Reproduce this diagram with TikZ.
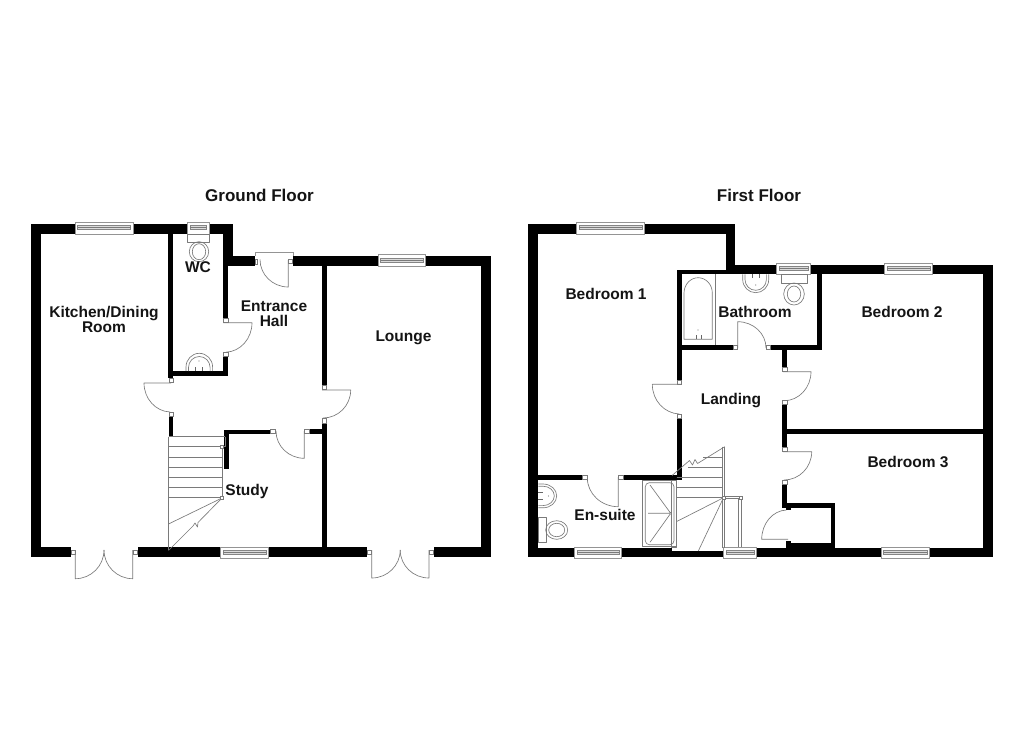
\documentclass[tikz,border=0pt]{standalone}
\usepackage{fontspec}
\setmainfont{Liberation Sans}
\tikzset{
  wall/.style={fill=black,draw=none},
  fine/.style={draw=black!52,line width=0.65pt,line join=round},
  jamb/.style={draw=black!52,fill=white,line width=0.6pt},
  winframe/.style={draw=black!42,fill=white,line width=0.7pt},
  winpane/.style={draw=black!48,fill=black!14,line width=0.5pt},
  room/.style={font=\fontsize{15.5}{15}\selectfont\bfseries,text=black!92,align=center,inner sep=0pt,text depth=0pt},
  title/.style={font=\fontsize{17}{17}\selectfont\bfseries,text=black!92,inner sep=0pt},
}
% horizontal window: x1,x2,ytop,ybot ; pane band inside
\newcommand{\hwin}[4]{%
  \fill[white] (#1,#3) rectangle (#2,#4);
  \draw[winframe] (#1,#3) rectangle (#2,#4);
  \draw[winpane] (#1+2.5,#3+3.5) rectangle (#2-2.5,#3+7.5);
  \draw[fine,line width=0.4pt] (#1+2.5,#3+5.5) -- (#2-2.5,#3+5.5);
}
\newcommand{\wl}[4]{\fill[wall] (#1,#2) rectangle (#3,#4);}
\newcommand{\jb}[2]{\draw[jamb] (#1-2.2,#2-2.2) rectangle (#1+2.2,#2+2.2);}
\begin{document}
\begin{tikzpicture}[x=1pt,y=-1pt]
\useasboundingbox (0,0) rectangle (1024,744);
\fill[white] (0,0) rectangle (1024,744);
% ================= GROUND FLOOR walls
\wl{30.7}{224}{40.7}{557}
\wl{30.7}{224}{232.7}{234}
\wl{223.3}{224}{232.7}{266}
\wl{223.3}{256}{255}{266}
\wl{223.3}{266}{228.3}{318}
\wl{223.3}{356}{228.3}{376}
\wl{168.3}{371}{228.3}{376}
\wl{168.3}{234}{173.3}{378}
\wl{168.6}{416}{173.3}{436.7}
\wl{223.5}{430}{270.7}{434}
\wl{224}{430}{229}{469}
\wl{309}{429}{321.7}{434}
\wl{321.7}{256}{326.7}{385}
\wl{321.7}{423}{326.7}{550}
\wl{293}{256}{490.7}{266}
\wl{480.7}{256}{490.7}{557}
\wl{30.7}{547.3}{70.7}{557}
\wl{137.7}{547.3}{366.7}{557}
\wl{433.7}{547.3}{490.7}{557}
% windows
\hwin{75}{133}{222}{234}
\hwin{187.3}{209}{222}{234}
\hwin{378}{425.7}{254.7}{266}
\hwin{220.7}{268.5}{547}{558.5}
% entrance door
\draw[winframe] (255,252.7) -- (293,252.7) -- (293,256);
\draw[winframe] (255,252.7) -- (255,256);
\draw[jamb] (255,259) rectangle (257.5,264);
\jb{290.5}{261.5}
\draw[fine] (288.3,260) -- (288.3,287) arc[start angle=90,end angle=180,x radius=28.3,y radius=27.5];
% wc door
\jb{225.8}{320.5}
\jb{225.8}{354.2}
\draw[fine] (223.3,322.7) -- (252,322.7) arc[start angle=0,end angle=88,x radius=27,y radius=29.5];
% kitchen door
\jb{171}{380.5}
\jb{171}{414}
\draw[fine] (171,383) -- (144,383) arc[start angle=180,end angle=92,x radius=27,y radius=29];
% lounge door
\jb{324.2}{387.4}
\jb{324.2}{420.7}
\draw[fine] (322,390) -- (350.7,390) arc[start angle=0,end angle=90,x radius=27.7,y radius=28];
% study door
\jb{272.8}{431.5}
\jb{306.7}{431.5}
\draw[fine] (304.3,431) -- (304.3,458.3) arc[start angle=90,end angle=180,x radius=28.3,y radius=27.3];
% french doors kitchen
\jb{73.2}{552.5}
\jb{135}{552.5}
\draw[fine] (75.3,550) -- (75.3,578.7) arc[start angle=90,end angle=0,x radius=28.7,y radius=28.7];
\draw[fine] (132.7,550) -- (132.7,578.7) arc[start angle=90,end angle=180,x radius=28.7,y radius=28.7];
% french doors lounge
\jb{369}{552.5}
\jb{431.3}{552.5}
\draw[fine] (371.7,550) -- (371.7,578) arc[start angle=90,end angle=0,x radius=28.5,y radius=28];
\draw[fine] (429,550) -- (429,578) arc[start angle=90,end angle=180,x radius=28.8,y radius=28];
% stairs ground
\draw[fine] (168.5,436.7) -- (168.5,550);
\draw[fine] (168.5,436.7) -- (225,436.7);
\draw[fine] (225,436.7) -- (225,446.7) -- (168.5,446.7);
\foreach \yy in {457,467,477.3,487.3,497.3} \draw[fine] (168.5,\yy) -- (222,\yy);
\draw[fine] (222,447) -- (222,498);
\draw[fine] (222,498) -- (168.5,524);
\draw[fine] (222,498) -- (198,522.5) -- (197.5,527) -- (195,523) -- (193,526) -- (168.5,550.5);
\draw[jamb,line width=0.5pt] (220.5,445.5) rectangle (223.5,448.5);
\draw[jamb,line width=0.5pt] (220.5,496.5) rectangle (223.5,499.5);
% wc toilet
\draw[fine,fill=white] (187.3,234) rectangle (209,242);
\draw[fine] (199,251.7) ellipse[x radius=9.7,y radius=10];
\draw[fine] (199,251.7) ellipse[x radius=6.7,y radius=8];
% wc sink
\draw[fine] (186,371) -- (186,367) arc[start angle=180,end angle=360,x radius=13.3,y radius=13.7] -- (212.6,371);
\draw[fine] (188.5,371) -- (188.5,367.5) arc[start angle=180,end angle=360,x radius=10.8,y radius=11] -- (210.1,371);
\draw[black!60,line width=1pt] (195.5,367) -- (195.5,371) (202.5,367) -- (202.5,371);
\fill[black!50] (199,361) circle (0.7);
% ================= FIRST FLOOR walls
\wl{528.3}{224.3}{538.3}{557}
\wl{528.3}{224.3}{735}{234}
\wl{725.7}{224.3}{735}{274.3}
\wl{676.7}{270}{735}{274.3}
\wl{735}{265}{992.7}{274.3}
\wl{983.3}{265}{992.7}{557}
\wl{676.7}{270}{681.7}{380}
\wl{676.7}{418}{681.7}{480}
\wl{681}{345}{732.7}{350}
\wl{771}{345}{821.7}{350}
\wl{816.7}{274}{821.7}{350}
\wl{782.3}{350}{787.3}{367}
\wl{782.3}{405}{786.9}{446.7}
\wl{782.3}{485}{786.9}{508}
\wl{782.3}{503.3}{835.3}{507.7}
\wl{786}{507.7}{791}{509.5}
\wl{831}{503.3}{835.3}{550}
\wl{786}{429.3}{983.3}{434.3}
\wl{538}{475}{582.3}{480}
\wl{623}{475}{676.7}{480}
\wl{528.3}{547.5}{574.3}{557}
\wl{621.7}{547.5}{671.7}{557}
\wl{671.7}{551}{723.3}{557}
\wl{756.7}{547.5}{992.7}{557}
\wl{786}{541}{791}{548}
\wl{790.7}{543.3}{835.3}{548}
% windows
\hwin{576.7}{644.3}{222}{234}
\hwin{776.7}{810.7}{263}{274.3}
\hwin{884.3}{932.7}{263}{274.3}
\hwin{574.3}{621.7}{547}{558.5}
\hwin{723.3}{756.7}{547}{558.5}
\hwin{881}{929.3}{547}{558.5}
% bedroom 1 door
\jb{679.2}{382.3}
\jb{679.2}{416}
\draw[fine] (681,384.3) -- (652.3,384.3) arc[start angle=180,end angle=92,x radius=28,y radius=29.7];
% bathroom door
\jb{735.2}{347.5}
\jb{768.5}{347.5}
\draw[fine] (737.7,348) -- (737.7,321.7) arc[start angle=-90,end angle=0,x radius=28.3,y radius=26.3];
% bedroom 2 door
\jb{784.6}{369.5}
\jb{784.6}{402.5}
\draw[fine] (783,371.7) -- (811,371.7) arc[start angle=0,end angle=90,x radius=27,y radius=29];
% bedroom 3 door
\jb{784.6}{449.2}
\jb{784.6}{482.5}
\draw[fine] (783,451.7) -- (811.7,451.7) arc[start angle=0,end angle=90,x radius=27.7,y radius=28.3];
% cupboard door
\draw[fine] (788,539.3) -- (761.7,539.3) arc[start angle=180,end angle=268,x radius=25.5,y radius=29.3];
% en-suite door
\jb{584.8}{477.5}
\jb{620.6}{477.5}
\draw[fine] (618.3,477) -- (618.3,506.7) arc[start angle=90,end angle=180,x radius=31,y radius=29];
% bath
\draw[fine] (715,274.3) -- (715,345);
\draw[fine] (684,339.3) -- (684,293) arc[start angle=180,end angle=360,x radius=14.15,y radius=15.3] -- (712.3,339.3) -- cycle;
\draw[black!60,line width=1pt] (696.5,335) -- (696.5,339.3) (701,335) -- (701,339.3);
\fill[black!50] (698,330) circle (0.7);
% bathroom sink
\draw[fine] (742.7,274.3) -- (742.7,279.5) arc[start angle=180,end angle=0,x radius=13,y radius=13.2] -- (768.7,274.3);
\draw[fine] (745,274.3) -- (745,279.5) arc[start angle=180,end angle=0,x radius=10.7,y radius=10.8] -- (766.4,274.3);
\draw[black!60,line width=1pt] (752,274.3) -- (752,278) (759.5,274.3) -- (759.5,278);
\fill[black!50] (755.7,285) circle (0.7);
% bathroom toilet
\draw[fine,fill=white] (781,274.3) rectangle (807.3,283.3);
\draw[fine] (794,294) ellipse[x radius=10.3,y radius=11];
\draw[fine] (794,294) ellipse[x radius=6.7,y radius=8];
% en-suite sink
\draw[fine] (538.3,484) -- (543,484) arc[start angle=-90,end angle=90,x radius=13.7,y radius=11.9] -- (538.3,507.8);
\draw[fine] (538.3,486.2) -- (543,486.2) arc[start angle=-90,end angle=90,x radius=11.3,y radius=9.7] -- (538.3,505.6);
\draw[black!60,line width=1pt] (538.3,492.5) -- (542.5,492.5) (538.3,499.5) -- (542.5,499.5);
\fill[black!50] (548.5,496) circle (0.7);
% en-suite toilet
\draw[fine,fill=white] (538.3,517.7) rectangle (546.7,542.3);
\draw[fine] (556.7,530) ellipse[x radius=11,y radius=9.3];
\draw[fine] (556.7,530) ellipse[x radius=8,y radius=6.7];
% shower
\draw[fine] (642.7,480) rectangle (676.7,546.7);
\draw[fine,rounded corners=4pt] (645.3,482.7) rectangle (674,544.7);
\draw[fine] (650,485) -- (670.7,513.3) -- (650,542.3) (648,513.3) -- (670.7,513.3);
\draw[fine,fill=white,line width=0.4pt] (670.7,513.3) circle (1);
% stairs first
\draw[fine] (676.7,480) -- (676.7,547.7) -- (671.7,547.7) -- (671.7,480);
\draw[fine] (724.7,446.7) -- (724.7,547.7);
\draw[fine] (722.3,446.7) -- (722.3,547.7);
\draw[fine] (724.7,446.7) -- (697.5,463.5) -- (695,459.5) -- (692.5,465) -- (689.5,460.5) -- (672,475.5);
\draw[fine] (703,457.3) -- (723,457.3);
\draw[fine] (688,467.3) -- (723,467.3);
\foreach \yy in {477.7,487.7,497.7} \draw[fine] (676.7,\yy) -- (723,\yy);
\draw[fine] (723.5,497.7) -- (676.7,521.5);
\draw[fine] (723.5,497.7) -- (698.3,551);
\draw[fine] (723.5,496.2) -- (741,496.2) (723.5,498.7) -- (741,498.7);
\draw[fine] (738.7,498.7) -- (738.7,547) (741,498.7) -- (741,547);
\draw[jamb,line width=0.5pt] (722,495.8) rectangle (725,499);
\draw[jamb,line width=0.5pt] (739,495.8) rectangle (742,499);
% ================= labels
\node[title] (gf) at (259.5,195) {Ground Floor};
\node[title] (ff) at (759,195) {First Floor};
\node[room] (kitchen) at (104,319.5) {Kitchen/Dining\\Room};
\node[room] (wc) at (198,267.5) {WC};
\node[room] (hall) at (274,313.5) {Entrance\\Hall};
\node[room] (lounge) at (403.5,336) {Lounge};
\node[room] (study) at (247,489.5) {Study};
\node[room] (bed1) at (606,294) {Bedroom 1};
\node[room] (bath) at (755,312) {Bathroom};
\node[room] (bed2) at (902,312) {Bedroom 2};
\node[room] (landing) at (731,399) {Landing};
\node[room] (bed3) at (908,462) {Bedroom 3};
\node[room] (ensuite) at (605,515) {En-suite};
\end{tikzpicture}
\end{document}
